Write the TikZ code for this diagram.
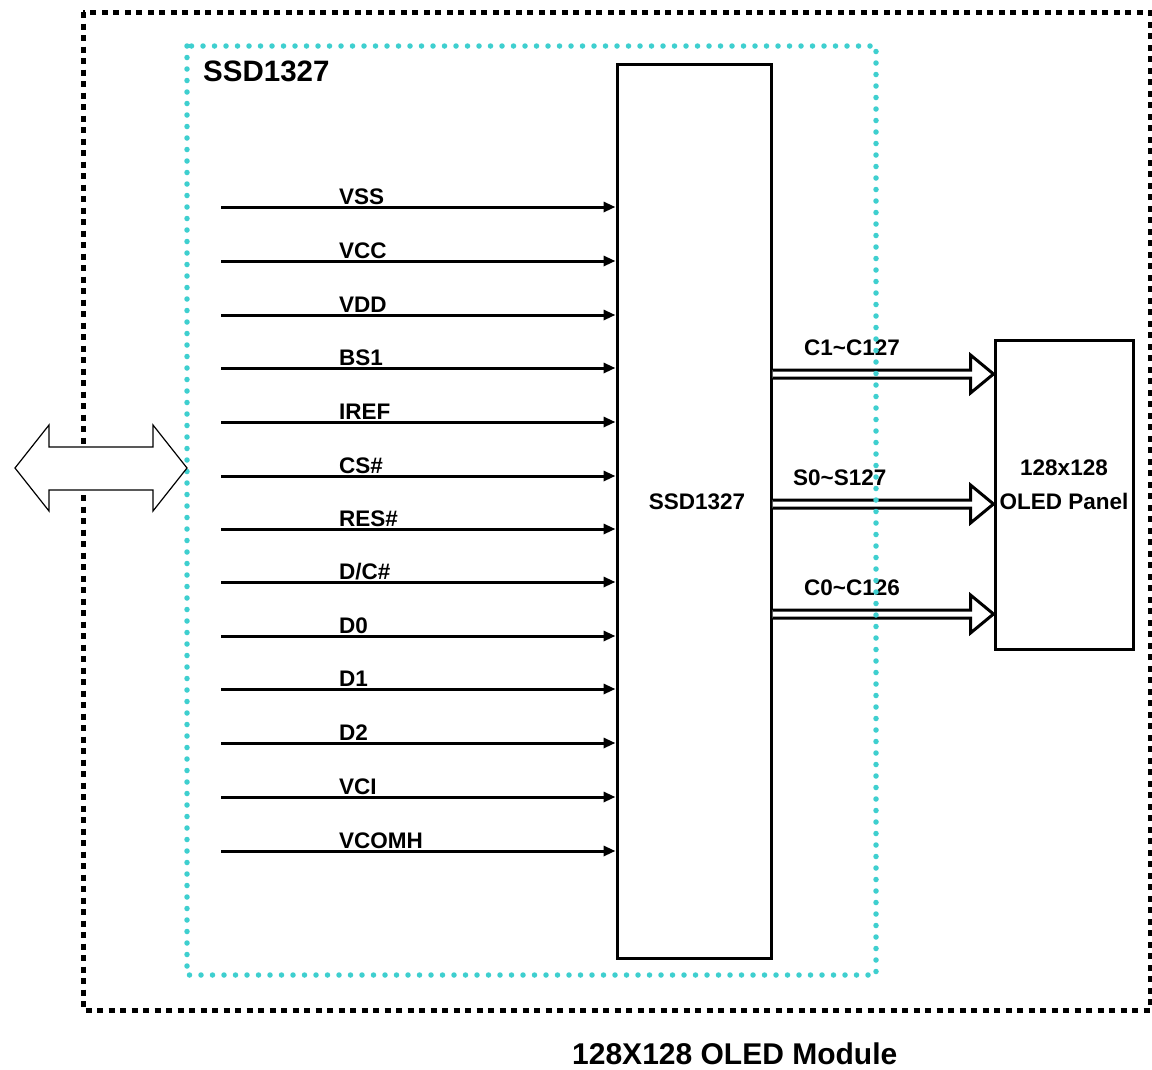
\documentclass[tikz,border=0pt]{standalone}
\usepackage{fontspec}
\setmainfont{Liberation Sans}
\usetikzlibrary{arrows.meta,calc}
\definecolor{dotcyan}{HTML}{3ECFCF}
\begin{document}
\begin{tikzpicture}[x=1pt,y=-1pt,
  lbl/.style={font=\fontsize{22.5}{24}\selectfont\bfseries, inner sep=0pt, anchor=base west},
  sig/.style={line width=3pt, -{Triangle[length=12pt,width=10pt]}},
  hollow/.style={line width=3pt, line join=miter, fill=white},
  boxst/.style={draw, line width=3pt, inner sep=0pt, fill=white}]
\useasboundingbox (0,0) rectangle (1152,1069);
\fill[white] (0,0) rectangle (1152,1069);
% outer module border
\draw[line width=5pt, dash pattern=on 6pt off 5.5pt] (83,12) rectangle (1150,1010);
% chip and panel
\node[boxst, minimum width=154pt, minimum height=894pt] (chip) at (694,511) {};
\node[font=\fontsize{22.5}{24}\selectfont\bfseries] (chiplbl) at (697,502) {SSD1327};
\node[boxst, minimum width=138pt, minimum height=309pt] (panel) at (1064,494.5) {};
\node[font=\fontsize{22.5}{24}\selectfont\bfseries, align=center, inner sep=0pt] (panellbl) at (1064,485)
  {128x128\\[10pt]OLED Panel};
% inputs
\foreach \y/\t [count=\i] in {207/VSS,261/VCC,315/VDD,368/BS1,422/IREF,476/CS\#,529/RES\#,582/{D/C\#},636/D0,689/D1,743/D2,797/VCI,851/VCOMH}{
  \coordinate (in\i) at (221,\y);
  \draw[sig] (in\i) -- (in\i -| chip.west);
  \node[lbl] (l\i) at (339,\y-3) {\t};
}
% hollow bus arrows
\foreach \y/\t/\lx [count=\i] in {374/C1\textasciitilde C127/804, 504/S0\textasciitilde S127/793, 614/C0\textasciitilde C126/804}{
  \coordinate (b\i) at (chip.east |- 0,\y);
  \coordinate (e\i) at (panel.west |- 0,\y);
  \draw[hollow] (b\i) ++(0,-4) -- ($(e\i)+(-23,-4)$) -- ($(e\i)+(-23,-19)$) -- (e\i)
     -- ($(e\i)+(-23,19)$) -- ($(e\i)+(-23,4)$) -- ($(b\i)+(0,4)$);
  \node[lbl] (bl\i) at (\lx,\y-19) {\t};
}
% cyan chip boundary
\draw[dotcyan, line width=5.5pt, line cap=round, dash pattern=on 0pt off 11.5pt] (187,46) rectangle (876,975);
\node[lbl, font=\fontsize{29.5}{31}\selectfont\bfseries] (title) at (203,81) {SSD1327};
% left double arrow
\draw[line width=1.2pt, fill=white, line join=miter] (15,468) -- (49,425) -- (49,447) -- (153,447) -- (153,425) -- (187,468)
  -- (153,511) -- (153,490) -- (49,490) -- (49,511) -- cycle;
% module caption
\node[lbl, font=\fontsize{30}{32}\selectfont\bfseries] (caption) at (572,1064) {128X128 OLED Module};
\end{tikzpicture}
\end{document}
